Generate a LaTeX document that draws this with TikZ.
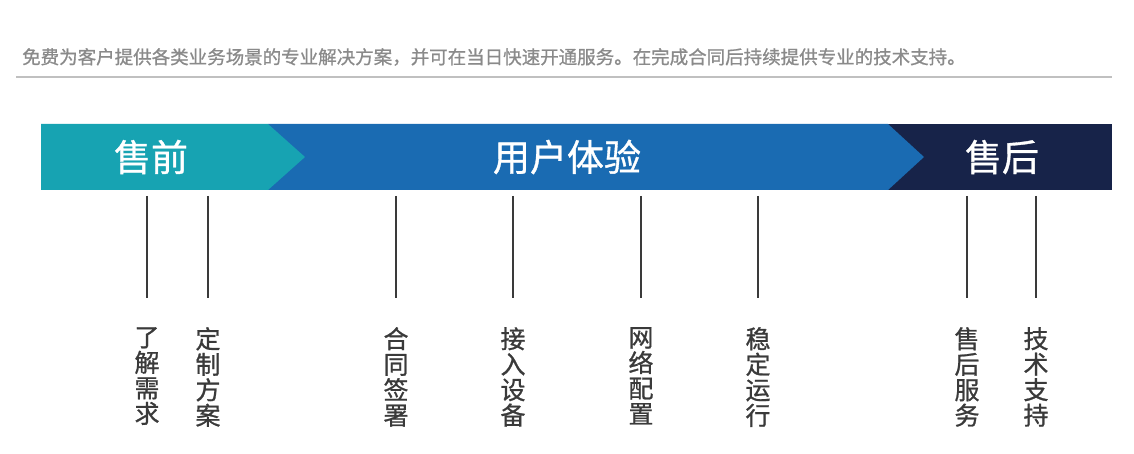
\documentclass[tikz,border=0pt]{standalone}
\usepackage{fontspec}
\newfontfamily\cjk{Noto Sans CJK SC}
\newfontfamily\cjkheavy[FakeBold=0.9]{Noto Sans CJK SC}
\usetikzlibrary{positioning}
\definecolor{preTeal}{HTML}{17A3B2}
\definecolor{useBlue}{HTML}{1A6BB2}
\definecolor{postNavy}{HTML}{172349}
\definecolor{tickGray}{HTML}{3A3A3A}
\definecolor{introGray}{HTML}{8A8A8A}
\definecolor{ruleGray}{HTML}{C0C0C0}
\tikzset{
    introText/.style={anchor=west, inner sep=0pt, text=introGray, font=\cjkheavy\fontsize{18.5}{18.5}\selectfont},
    phaseTitle/.style={inner sep=0pt, text=white, font=\cjkheavy\fontsize{37}{37}\selectfont},
    stepLabel/.style={anchor=north, inner sep=0pt, align=center, text=tickGray, font=\cjkheavy\fontsize{25}{25.5}\selectfont},
    stepLine/.style={draw=tickGray, line width=2.6pt},
    topRule/.style={draw=ruleGray, line width=2.6pt},
}
\newcommand{\drawStep}[3]{
    \coordinate (#2top) at (#1,196);
    \coordinate (#2bot) at (#1,298);
    \node[stepLabel] (#2) at (#1,327) {#3};
    \draw[stepLine] (#2top) -- (#2bot);
}

\begin{document}
\begin{tikzpicture}[x=1pt, y=-1pt]
        \useasboundingbox (0,0) rectangle (1134,454);

        \node[introText] (intro) at (22,57) {免费为客户提供各类业务场景的专业解决方案，并可在当日快速开通服务。在完成合同后持续提供专业的技术支持。};
        \coordinate (ruleL) at (16,77);
        \coordinate (ruleR) at (1112,77);
        \draw[topRule] (ruleL) -- (ruleR);

        % phase bands
        \fill[postNavy] (888,124) rectangle (1112,190);
        \fill[useBlue] (268,124) -- (888,124) -- (924,157) -- (888,190) -- (268,190) -- cycle;
        \fill[preTeal] (41,124) -- (268,124) -- (305,157) -- (268,190) -- (41,190) -- cycle;

        \node[phaseTitle] (pre) at (151,157) {售前};
        \node[phaseTitle] (use) at (567,157) {用户体验};
        \node[phaseTitle] (post) at (1002,157) {售后};

        \drawStep{147}{need}{了\\解\\需\\求}
        \drawStep{208}{plan}{定\\制\\方\\案}
        \drawStep{396}{sign}{合\\同\\签\\署}
        \drawStep{513}{dev}{接\\入\\设\\备}
        \drawStep{641}{net}{网\\络\\配\\置}
        \drawStep{758}{run}{稳\\定\\运\\行}
        \drawStep{967}{serv}{售\\后\\服\\务}
        \drawStep{1036}{tech}{技\\术\\支\\持}

    \end{tikzpicture}
\end{document}
